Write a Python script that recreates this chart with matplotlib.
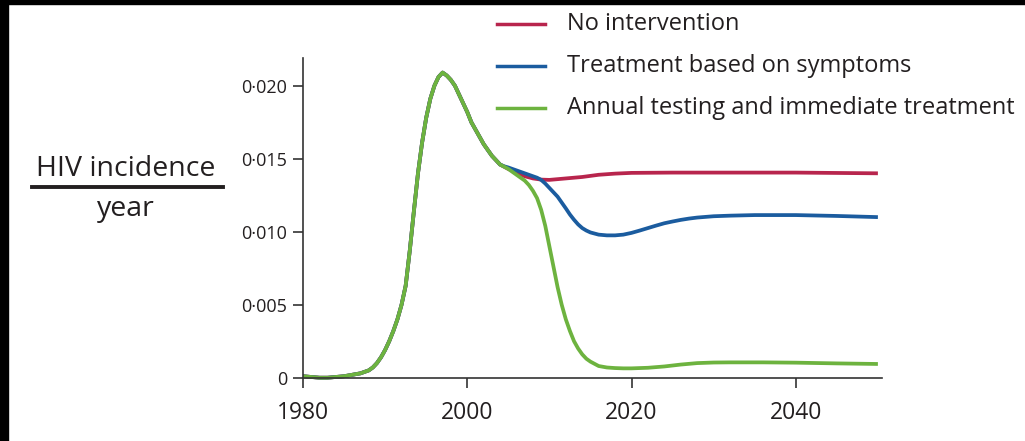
import matplotlib
matplotlib.use("Agg")
import matplotlib.pyplot as plt
from matplotlib.lines import Line2D
from matplotlib.patches import Rectangle
from matplotlib.ticker import FixedLocator, FuncFormatter

plt.rcParams['font.family'] = ['Open Sans', 'DejaVu Sans']

# Shared epidemic trajectory before the interventions diverge
years_common = [1980, 1981, 1982, 1983, 1984, 1985, 1986, 1987, 1988, 1988.5,
                1989, 1989.5, 1990, 1990.5, 1991, 1991.5, 1992, 1992.5, 1993,
                1993.5, 1994, 1994.5, 1995, 1995.5, 1996, 1996.5, 1997, 1997.5,
                1998, 1998.5, 1999, 1999.5, 2000, 2000.5, 2001, 2001.5, 2002,
                2002.5, 2003, 2003.5, 2004]
incidence_common = [0.0001, 0.00005, 0.0, 0.0, 0.00005, 0.0001, 0.0002, 0.0003,
                    0.0005, 0.0007, 0.0010, 0.0014, 0.0019, 0.0025, 0.0032,
                    0.0040, 0.0050, 0.0063, 0.0087, 0.0114, 0.0140, 0.0161,
                    0.0178, 0.0191, 0.0200, 0.0206, 0.0209, 0.0207, 0.0204,
                    0.0200, 0.0194, 0.0188, 0.0182, 0.0175, 0.0170, 0.0165,
                    0.0160, 0.0156, 0.0152, 0.0149, 0.0146]

# Scenario tails after 2004
years_none = [2004.5, 2005, 2006, 2007, 2008, 2009, 2010, 2011, 2012, 2014,
              2016, 2018, 2020, 2025, 2030, 2040, 2050]
incidence_none = [0.01445, 0.0143, 0.01405, 0.0138, 0.01365, 0.01357, 0.01355,
                  0.0136, 0.01365, 0.01375, 0.0139, 0.01398, 0.01403, 0.01405,
                  0.01405, 0.01405, 0.0140]

years_symptoms = [2004.5, 2005, 2006, 2007, 2008, 2008.5, 2009, 2009.5, 2010,
                  2010.5, 2011, 2011.5, 2012, 2012.5, 2013, 2013.5, 2014,
                  2014.5, 2015, 2016, 2017, 2018, 2019, 2020, 2021, 2022, 2023,
                  2024, 2025, 2026, 2027, 2028, 2030, 2032, 2035, 2040, 2045,
                  2050]
incidence_symptoms = [0.01448, 0.0144, 0.0142, 0.0140, 0.0138, 0.0137, 0.01355,
                      0.0133, 0.0130, 0.0127, 0.0124, 0.0120, 0.0116, 0.01118,
                      0.01082, 0.0105, 0.01025, 0.01008, 0.00995, 0.0098,
                      0.00975, 0.00975, 0.0098, 0.00992, 0.01008, 0.01025,
                      0.01042, 0.01058, 0.0107, 0.01081, 0.0109, 0.01097,
                      0.01106, 0.0111, 0.01114, 0.01114, 0.01108, 0.0110]

years_testing = [2004.5, 2005, 2005.5, 2006, 2006.5, 2007, 2007.5, 2008, 2008.5,
                 2009, 2009.5, 2010, 2010.5, 2011, 2011.5, 2012, 2012.5, 2013,
                 2013.5, 2014, 2014.5, 2015, 2015.5, 2016, 2017, 2018, 2019,
                 2020, 2022, 2024, 2026, 2028, 2030, 2032, 2036, 2040, 2045,
                 2050]
incidence_testing = [0.01445, 0.0143, 0.0141, 0.0139, 0.0137, 0.0135, 0.0132,
                     0.0128, 0.0123, 0.0115, 0.0104, 0.0090, 0.0076, 0.0062,
                     0.0050, 0.0040, 0.0032, 0.0025, 0.0020, 0.0016, 0.0013,
                     0.0011, 0.00095, 0.0008, 0.0007, 0.00066, 0.00064,
                     0.00064, 0.00068, 0.00077, 0.0009, 0.0010, 0.00104,
                     0.00105, 0.00105, 0.00103, 0.00098, 0.00094]

labels = ["No intervention", "Treatment based on symptoms",
          "Annual testing and immediate treatment"]
colors = ["#b8254d", "#1b5c9f", "#6db33f"]
tails = [(years_none, incidence_none),
         (years_symptoms, incidence_symptoms),
         (years_testing, incidence_testing)]

x_ticks = [1980, 2000, 2020, 2040]
y_ticks = [0, 0.005, 0.010, 0.015, 0.020]

ink = "#231f20"
W, H = 1025, 441
fig = plt.figure(figsize=(W / 100, H / 100), dpi=100)
fig.patch.set_facecolor("white")

ax = fig.add_axes([303 / W, 63.3 / H, 579 / W, (377.7 - 58) / H])
for (yrs, vals), col in zip(tails, colors):
    ax.plot(years_common + yrs, incidence_common + vals, color=col, lw=2.7,
            solid_capstyle="butt", solid_joinstyle="round", clip_on=False)

ax.set_xlim(1980, 2050.5)
ax.set_ylim(0, 0.0219)
ax.xaxis.set_major_locator(FixedLocator(x_ticks))
ax.yaxis.set_major_locator(FixedLocator(y_ticks))
ax.yaxis.set_major_formatter(FuncFormatter(
    lambda v, _: "0" if v == 0 else f"{v:.3f}".replace(".", "\u00b7")))

for side in ("top", "right"):
    ax.spines[side].set_visible(False)
for side in ("left", "bottom"):
    ax.spines[side].set_color("#333333")
    ax.spines[side].set_linewidth(1.2)
ax.tick_params(axis="both", direction="out", length=7, width=1.2,
               color="#333333", labelcolor=ink)
ax.tick_params(axis="y", labelsize=13, pad=4.5)
ax.tick_params(axis="x", labelsize=16.5, pad=10)

# Fraction-style y label
fig.text(126 / W, 1 - 176 / H, "HIV incidence", ha="center", va="baseline",
         fontsize=20.5, color=ink)
fig.add_artist(Line2D([31.7 / W, 222.5 / W], [1 - 187.5 / H] * 2,
                      transform=fig.transFigure, color=ink, lw=2.8))
fig.text(126 / W, 1 - 216 / H, "year", ha="center", va="baseline",
         fontsize=20.5, color=ink)

# Legend drawn as keys beside the labels
for i, (lab, col) in enumerate(zip(labels, colors)):
    yy = 1 - (24 + 42 * i) / H
    fig.add_artist(Line2D([497 / W, 545 / W], [yy, yy],
                          transform=fig.transFigure, color=col, lw=2.5))
    fig.text(567 / W, yy, lab, ha="left", va="center", fontsize=17, color=ink)

# Dark frame edges
fig.add_artist(Rectangle((0, 0), 8 / W, 1, transform=fig.transFigure,
                         color="black", zorder=10))
fig.add_artist(Rectangle((0, 1 - 4 / H), 1, 4 / H, transform=fig.transFigure,
                         color="black", zorder=10))

fig.savefig("out.png", dpi=100)
